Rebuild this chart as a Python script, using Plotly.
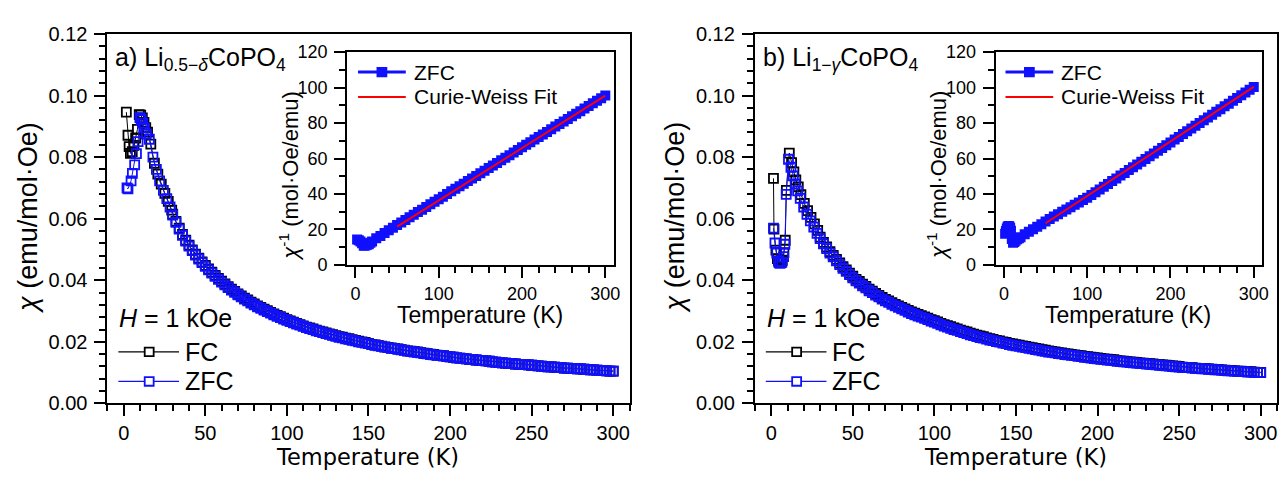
import plotly.graph_objects as go

# ---------------- data ----------------
T_grid = [30, 32, 34, 36, 38, 40, 42, 44, 46, 48,
          50, 52, 54, 56, 58, 60, 62, 64, 66, 68,
          70, 72, 74, 76, 78, 80, 82, 84, 86, 88,
          90, 92, 94, 96, 98, 100, 102, 104, 106, 108,
          110, 112, 114, 116, 118, 120, 122, 124, 126, 128,
          130, 132, 134, 136, 138, 140, 142, 144, 146, 148,
          150, 152, 154, 156, 158, 160, 162, 164, 166, 168,
          170, 172, 174, 176, 178, 180, 182, 184, 186, 188,
          190, 192, 194, 196, 198, 200, 202, 204, 206, 208,
          210, 212, 214, 216, 218, 220, 222, 224, 226, 228,
          230, 232, 234, 236, 238, 240, 242, 244, 246, 248,
          250, 252, 254, 256, 258, 260, 262, 264, 266, 268,
          270, 272, 274, 276, 278, 280, 282, 284, 286, 288,
          290, 292, 294, 296, 298, 300]

# panel a : Li(0.5-d)CoPO4
Ta_zfc_low = [2.0, 2.6, 4.5, 5.3, 6.7, 7.8, 8.8, 9.9, 10.7, 11.6, 12.6, 13.8, 15.7,
              17.9, 20.0, 22.0, 24.3, 26.4, 28.4]
chia_zfc_low = [0.0700, 0.0697, 0.0723, 0.0747, 0.0775, 0.0811, 0.0850, 0.0928, 0.0922,
                0.0910, 0.0895, 0.0875, 0.0858, 0.0800, 0.0760, 0.0723, 0.0692, 0.0665, 0.0638]
chia_zfc_high = [0.0612, 0.0588, 0.0566, 0.0546, 0.0527, 0.0511, 0.0496, 0.0482, 0.0469, 0.0457,
                 0.0445, 0.0434, 0.0423, 0.0413, 0.0403, 0.0394, 0.0385, 0.0376, 0.0368, 0.0361,
                 0.0353, 0.0346, 0.0339, 0.0333, 0.0326, 0.0320, 0.0314, 0.0309, 0.0303, 0.0298,
                 0.0293, 0.0288, 0.0283, 0.0279, 0.0274, 0.0270, 0.0266, 0.0262, 0.0258, 0.0254,
                 0.0250, 0.0246, 0.0243, 0.0240, 0.0236, 0.0233, 0.0230, 0.0227, 0.0224, 0.0221,
                 0.0218, 0.0215, 0.0213, 0.0210, 0.0208, 0.0205, 0.0203, 0.0200, 0.0198, 0.0196,
                 0.0194, 0.0191, 0.0189, 0.0187, 0.0185, 0.0183, 0.0181, 0.0179, 0.0178, 0.0176,
                 0.0174, 0.0172, 0.0170, 0.0169, 0.0167, 0.0166, 0.0164, 0.0162, 0.0161, 0.0159,
                 0.0158, 0.0156, 0.0155, 0.0154, 0.0152, 0.0151, 0.0150, 0.0148, 0.0147, 0.0146,
                 0.0145, 0.0143, 0.0142, 0.0141, 0.0140, 0.0139, 0.0138, 0.0137, 0.0135, 0.0134,
                 0.0133, 0.0132, 0.0131, 0.0130, 0.0129, 0.0128, 0.0127, 0.0126, 0.0126, 0.0125,
                 0.0124, 0.0123, 0.0122, 0.0121, 0.0120, 0.0119, 0.0119, 0.0118, 0.0117, 0.0116,
                 0.0115, 0.0115, 0.0114, 0.0113, 0.0112, 0.0112, 0.0111, 0.0110, 0.0109, 0.0109,
                 0.0108, 0.0107, 0.0107, 0.0106, 0.0105, 0.0105]

Ta_fc_low = [1.6, 2.6, 3.3, 4.1, 5.2, 6.3, 7.3, 8.4, 9.5, 10.4, 11.4, 12.4, 13.5, 14.6,
             16.6, 18.8, 20.9, 23.0, 25.2, 27.3, 29.4]
chia_fc_low = [0.0946, 0.0871, 0.0834, 0.0812, 0.0818, 0.0838, 0.0862, 0.0890, 0.0938, 0.0936,
               0.0927, 0.0913, 0.0896, 0.0881, 0.0842, 0.0780, 0.0745, 0.0712, 0.0682, 0.0656, 0.0628]
chia_fc_high = [0.0615, 0.0591, 0.0569, 0.0549, 0.0530, 0.0514, 0.0499, 0.0485, 0.0472, 0.0460,
                0.0448, 0.0437, 0.0426, 0.0416, 0.0406, 0.0397, 0.0388, 0.0379, 0.0371, 0.0364,
                0.0356, 0.0349, 0.0342, 0.0336, 0.0329, 0.0323, 0.0317, 0.0312, 0.0306, 0.0301,
                0.0296, 0.0291, 0.0286, 0.0282, 0.0277, 0.0272, 0.0268, 0.0264, 0.0260, 0.0256,
                0.0252, 0.0248, 0.0245, 0.0242, 0.0238, 0.0235, 0.0232, 0.0229, 0.0226, 0.0223,
                0.0220, 0.0217, 0.0215, 0.0212, 0.0210, 0.0207, 0.0205, 0.0202, 0.0200, 0.0198,
                0.0195, 0.0192, 0.0190, 0.0188, 0.0186, 0.0184, 0.0182, 0.0180, 0.0179, 0.0177,
                0.0175, 0.0173, 0.0171, 0.0170, 0.0168, 0.0167, 0.0165, 0.0163, 0.0162, 0.0160,
                0.0159, 0.0157, 0.0156, 0.0155, 0.0153, 0.0151, 0.0150, 0.0148, 0.0147, 0.0146,
                0.0145, 0.0143, 0.0142, 0.0141, 0.0140, 0.0139, 0.0138, 0.0137, 0.0135, 0.0134,
                0.0133, 0.0132, 0.0131, 0.0130, 0.0129, 0.0128, 0.0127, 0.0126, 0.0126, 0.0125,
                0.0124, 0.0123, 0.0122, 0.0121, 0.0120, 0.0119, 0.0119, 0.0118, 0.0117, 0.0116,
                0.0115, 0.0115, 0.0114, 0.0113, 0.0112, 0.0112, 0.0111, 0.0110, 0.0109, 0.0109,
                0.0108, 0.0107, 0.0107, 0.0106, 0.0105, 0.0105]

# panel b : Li(1-g)CoPO4
Tb_zfc_low = [1.4, 2.3, 3.4, 4.4, 5.4, 6.5, 7.6, 8.4, 9.2, 10.6, 12.1, 13.5, 14.7, 16.2,
              17.8, 19.9, 21.9, 24.0, 26.1, 28.1]
chib_zfc_low = [0.0569, 0.0521, 0.0488, 0.0462, 0.0455, 0.0458, 0.0477, 0.0517, 0.0679, 0.0793,
                0.0767, 0.0739, 0.0713, 0.0690, 0.0666, 0.0638, 0.0614, 0.0593, 0.0573, 0.0552]
chib_zfc_high = [0.0535, 0.0518, 0.0503, 0.0488, 0.0476, 0.0463, 0.0451, 0.0439, 0.0429, 0.0418,
                 0.0408, 0.0398, 0.0391, 0.0382, 0.0375, 0.0366, 0.0360, 0.0352, 0.0346, 0.0339,
                 0.0333, 0.0328, 0.0322, 0.0317, 0.0312, 0.0307, 0.0302, 0.0297, 0.0292, 0.0288,
                 0.0284, 0.0280, 0.0276, 0.0272, 0.0267, 0.0264, 0.0260, 0.0255, 0.0251, 0.0248,
                 0.0244, 0.0240, 0.0237, 0.0233, 0.0230, 0.0227, 0.0223, 0.0220, 0.0217, 0.0214,
                 0.0212, 0.0209, 0.0206, 0.0204, 0.0201, 0.0199, 0.0196, 0.0194, 0.0191, 0.0189,
                 0.0187, 0.0185, 0.0183, 0.0181, 0.0179, 0.0177, 0.0175, 0.0173, 0.0171, 0.0169,
                 0.0167, 0.0166, 0.0164, 0.0162, 0.0161, 0.0159, 0.0158, 0.0156, 0.0155, 0.0153,
                 0.0152, 0.0150, 0.0149, 0.0147, 0.0146, 0.0145, 0.0143, 0.0142, 0.0141, 0.0140,
                 0.0139, 0.0137, 0.0136, 0.0135, 0.0134, 0.0133, 0.0132, 0.0131, 0.0130, 0.0129,
                 0.0128, 0.0127, 0.0126, 0.0125, 0.0124, 0.0123, 0.0122, 0.0121, 0.0120, 0.0119,
                 0.0118, 0.0117, 0.0116, 0.0116, 0.0115, 0.0114, 0.0113, 0.0112, 0.0112, 0.0111,
                 0.0110, 0.0109, 0.0109, 0.0108, 0.0107, 0.0106, 0.0106, 0.0105, 0.0104, 0.0104,
                 0.0103, 0.0102, 0.0102, 0.0101, 0.0100, 0.0100]

Tb_fc_low = [1.4, 1.7, 2.9, 3.8, 4.8, 5.8, 6.8, 7.8, 8.6, 9.3, 11.1, 12.5, 13.9, 15.1, 16.6,
             18.2, 20.3, 22.3, 24.4, 26.5, 28.5]
chib_fc_low = [0.0731, 0.0566, 0.0498, 0.0470, 0.0458, 0.0457, 0.0465, 0.0490, 0.0530, 0.0692,
               0.0813, 0.0782, 0.0752, 0.0726, 0.0703, 0.0678, 0.0650, 0.0626, 0.0604, 0.0583, 0.0562]
chib_fc_high = [0.0540, 0.0523, 0.0508, 0.0493, 0.0481, 0.0468, 0.0456, 0.0444, 0.0434, 0.0423,
                0.0413, 0.0403, 0.0396, 0.0387, 0.0380, 0.0371, 0.0365, 0.0357, 0.0351, 0.0344,
                0.0338, 0.0333, 0.0327, 0.0322, 0.0317, 0.0312, 0.0307, 0.0302, 0.0297, 0.0293,
                0.0289, 0.0285, 0.0281, 0.0277, 0.0272, 0.0269, 0.0265, 0.0260, 0.0256, 0.0253,
                0.0249, 0.0245, 0.0242, 0.0238, 0.0235, 0.0232, 0.0228, 0.0225, 0.0222, 0.0219,
                0.0217, 0.0213, 0.0210, 0.0208, 0.0205, 0.0203, 0.0200, 0.0198, 0.0195, 0.0193,
                0.0191, 0.0189, 0.0187, 0.0185, 0.0183, 0.0181, 0.0179, 0.0177, 0.0175, 0.0173,
                0.0171, 0.0169, 0.0167, 0.0165, 0.0164, 0.0162, 0.0161, 0.0159, 0.0158, 0.0156,
                0.0155, 0.0153, 0.0152, 0.0150, 0.0149, 0.0148, 0.0146, 0.0145, 0.0144, 0.0143,
                0.0142, 0.0139, 0.0138, 0.0137, 0.0136, 0.0135, 0.0134, 0.0133, 0.0132, 0.0131,
                0.0130, 0.0129, 0.0128, 0.0127, 0.0126, 0.0125, 0.0124, 0.0123, 0.0122, 0.0121,
                0.0120, 0.0118, 0.0117, 0.0117, 0.0116, 0.0115, 0.0114, 0.0113, 0.0113, 0.0112,
                0.0111, 0.0110, 0.0110, 0.0109, 0.0108, 0.0107, 0.0107, 0.0106, 0.0105, 0.0105,
                0.0104, 0.0103, 0.0103, 0.0102, 0.0101, 0.0101]

# insets: inverse susceptibility (ZFC) and Curie-Weiss fit
Ta_inset = [2, 4, 6, 8, 10, 12, 14, 16, 18, 20, 25, 30, 35,
            40, 45, 50, 55, 60, 65, 70, 75, 80, 85, 90, 95, 100, 105, 110, 115, 120, 125,
            130, 135, 140, 145, 150, 155, 160, 165, 170, 175, 180, 185, 190, 195, 200, 205,
            210, 215, 220, 225, 230, 235, 240, 245, 250, 255, 260, 265, 270, 275, 280, 285,
            290, 295, 300]
inva_inset = [14.3, 14.0, 13.2, 12.3, 10.9, 11.0, 11.4, 11.7, 12.5, 13.2, 15.0, 16.3, 18.0,
              19.6, 21.0, 22.5, 23.9, 25.4, 26.9, 28.3, 29.8, 31.2, 32.7, 34.2, 35.6, 37.1, 38.5,
              40.0, 41.5, 42.9, 44.4, 45.8, 47.3, 48.8, 50.2, 51.7, 53.1, 54.6, 56.1, 57.5, 59.0,
              60.4, 61.9, 63.4, 64.8, 66.3, 67.7, 69.2, 70.7, 72.1, 73.6, 75.0, 76.5, 78.0, 79.4,
              80.9, 82.3, 83.8, 85.3, 86.7, 88.2, 89.6, 91.1, 92.6, 94.0, 95.5]
Ta_fit = [50, 300]
inva_fit = [21.6, 95.4]

Tb_inset = [1.5, 2.5, 3.5, 4.5, 5.5, 6.5, 7.5, 8.5, 9.5, 11, 12.5, 14, 16, 18, 20, 25, 30, 35,
            40, 45, 50, 55, 60, 65, 70, 75, 80, 85, 90, 95, 100, 105, 110, 115, 120, 125,
            130, 135, 140, 145, 150, 155, 160, 165, 170, 175, 180, 185, 190, 195, 200, 205,
            210, 215, 220, 225, 230, 235, 240, 245, 250, 255, 260, 265, 270, 275, 280, 285,
            290, 295, 300]
invb_inset = [17.6, 19.2, 20.5, 21.6, 22.0, 21.8, 21.0, 19.3, 14.7, 12.6, 13.0, 13.7, 14.5, 15.0,
              15.7, 17.3, 18.7, 20.2, 21.6, 23.0,
              24.5, 25.9, 27.3, 28.6, 30.0, 31.3, 32.6, 33.9, 35.2, 36.6, 37.9, 39.5, 41.0, 42.6,
              44.1, 45.7, 47.3, 48.8, 50.4, 51.9, 53.5, 55.1, 56.6, 58.2, 59.7, 61.3, 62.9, 64.4,
              66.0, 67.5, 69.1, 70.7, 72.2, 73.8, 75.3, 76.9, 78.5, 80.0, 81.6, 83.1, 84.7, 86.3,
              87.8, 89.4, 90.9, 92.5, 94.1, 95.6, 97.2, 98.7, 100.3]
Tb_fit = [50, 300]
invb_fit = [23.5, 100.4]

main_xticks = [0, 50, 100, 150, 200, 250, 300]
inset_xticks = [0, 100, 200, 300]

# ---------------- figure ----------------
W, H = 1287, 487
BLUE = "#1010ff"
RED = "#ff0000"
FONT = "Liberation Sans, Arial, sans-serif"


def fx(p):
    return p / W


def fy(p):
    return 1 - p / H


fig = go.Figure()


def main_traces(xa, ya, T_fc, c_fc, T_zfc, c_zfc):
    fig.add_trace(go.Scatter(
        x=T_fc, y=c_fc, xaxis=xa, yaxis=ya, name="FC", showlegend=False,
        mode="lines+markers", line=dict(color="black", width=1),
        marker=dict(symbol="square-open", size=9, color="black", line=dict(width=1.8, color="black"))))
    fig.add_trace(go.Scatter(
        x=T_zfc, y=c_zfc, xaxis=xa, yaxis=ya, name="ZFC", showlegend=False,
        mode="lines+markers", line=dict(color=BLUE, width=1),
        marker=dict(symbol="square-open", size=9, color=BLUE, line=dict(width=1.8, color=BLUE))))


def inset_traces(xa, ya, T_d, inv_d, T_f, inv_f):
    fig.add_trace(go.Scatter(
        x=T_d, y=inv_d, xaxis=xa, yaxis=ya, name="ZFC", showlegend=False,
        mode="lines+markers", line=dict(color=BLUE, width=3),
        marker=dict(symbol="square", size=10, color=BLUE)))
    fig.add_trace(go.Scatter(
        x=T_f, y=inv_f, xaxis=xa, yaxis=ya, name="Curie-Weiss Fit", showlegend=False,
        mode="lines", line=dict(color=RED, width=2)))


main_traces("x", "y", Ta_fc_low + T_grid, chia_fc_low + chia_fc_high,
            Ta_zfc_low + T_grid, chia_zfc_low + chia_zfc_high)
main_traces("x2", "y2", Tb_fc_low + T_grid, chib_fc_low + chib_fc_high,
            Tb_zfc_low + T_grid, chib_zfc_low + chib_zfc_high)
inset_traces("x3", "y3", Ta_inset, inva_inset, Ta_fit, inva_fit)
inset_traces("x4", "y4", Tb_inset, invb_inset, Tb_fit, invb_fit)

ax_common = dict(showline=True, linecolor="black", linewidth=2, mirror=True,
                 ticks="outside", tickcolor="black", tickwidth=1.5, ticklen=11,
                 showgrid=False, zeroline=False)

main_x = dict(ax_common, range=[-10, 310], tickvals=main_xticks,
              tickfont=dict(family=FONT, size=20, color="black"),
              minor=dict(dtick=10, tick0=0, ticks="outside", ticklen=6, tickwidth=1.5, tickcolor="black"))
main_y = dict(ax_common, range=[0, 0.12], dtick=0.02, tickformat=".2f",
              tickfont=dict(family=FONT, size=20, color="black"), ticklabelstandoff=3,
              minor=dict(dtick=0.004, tick0=0, ticks="outside", ticklen=6, tickwidth=1.5, tickcolor="black"))
ins_x = dict(ax_common, range=[-10, 310], tickvals=inset_xticks,
             tickfont=dict(family=FONT, size=18, color="black"),
             minor=dict(dtick=20, tick0=0, ticks="outside", ticklen=6, tickwidth=1.5, tickcolor="black"))
ins_y = dict(ax_common, range=[0, 120], dtick=20,
             tickfont=dict(family=FONT, size=18, color="black"), ticklabelstandoff=3,
             minor=dict(dtick=10, tick0=0, ticks="outside", ticklen=6, tickwidth=1.5, tickcolor="black"))

fig.update_layout(
    width=W, height=H, margin=dict(l=0, r=0, t=0, b=0),
    paper_bgcolor="white", plot_bgcolor="white", showlegend=False,
    font=dict(family=FONT, color="black"),
    xaxis=dict(main_x, domain=[fx(108), fx(633)], anchor="y"),
    yaxis=dict(main_y, domain=[fy(411), fy(24)], anchor="x"),
    xaxis2=dict(main_x, domain=[fx(759), fx(1284)], anchor="y2"),
    yaxis2=dict(main_y, domain=[fy(411), fy(24)], anchor="x2"),
    xaxis3=dict(ins_x, domain=[fx(349), fx(617)], anchor="y3"),
    yaxis3=dict(ins_y, domain=[fy(266), fy(43)], anchor="x3"),
    xaxis4=dict(ins_x, domain=[fx(1001), fx(1269)], anchor="y4"),
    yaxis4=dict(ins_y, domain=[fy(266), fy(43)], anchor="x4"),
)

annots = []
shapes = []


def text(t, x, y, size, family=FONT, anchor="left", angle=0):
    annots.append(dict(text=t, x=fx(x), y=fy(y), xanchor=anchor, yanchor="middle",
                       textangle=angle, font=dict(family=family, size=size, color="black"),
                       showarrow=False, xref="paper", yref="paper"))


def key_line(x0, x1, y, color, width):
    shapes.append(dict(type="line", xref="paper", yref="paper", x0=fx(x0), x1=fx(x1),
                       y0=fy(y), y1=fy(y), line=dict(color=color, width=width)))


def key_square(xc, y, half, color, filled):
    shapes.append(dict(type="rect", xref="paper", yref="paper",
                       x0=fx(xc - half), x1=fx(xc + half), y0=fy(y + half), y1=fy(y - half),
                       line=dict(color=color, width=1.8),
                       fillcolor=color if filled else "white"))


for dx, label in [(0, "a) Li<sub>0.5−<i>δ</i></sub>CoPO<sub>4</sub>"),
                  (651, "b) Li<sub>1−<i>γ</i></sub>CoPO<sub>4</sub>")]:
    text(label, 114 + dx, 50, 25)
    text("<i>χ</i> (emu/mol·Oe)", 28 + dx, 216, 27, anchor="center", angle=-90)
    text("Temperature (K)", 370 + dx, 467, 22.5, family="DejaVu Sans", anchor="center")
    text("Temperature (K)", 483 + dx, 318, 23, anchor="center")
    text("<i>χ</i><sup>-1</sup> (mol·Oe/emu)", 291 + dx, 172, 22, anchor="center", angle=-90)
    # main legend
    text("<i>H</i> = 1 kOe", 118 + dx, 322, 25)
    key_line(119 + dx, 180 + dx, 357, "black", 1.2)
    key_square(150 + dx, 357, 4.5, "black", False)
    text("FC", 184 + dx, 357, 25)
    key_line(119 + dx, 180 + dx, 388, BLUE, 1.2)
    key_square(150 + dx, 388, 4.5, BLUE, False)
    text("ZFC", 184 + dx, 388, 25)
    # inset legend
    key_line(360 + dx, 408 + dx, 64, BLUE, 3)
    key_square(384 + dx, 64, 4.5, BLUE, True)
    text("ZFC", 414 + dx, 64, 21)
    key_line(360 + dx, 408 + dx, 90, RED, 2)
    text("Curie-Weiss Fit", 414 + dx, 90, 21)

fig.update_layout(annotations=annots, shapes=shapes)

fig.write_html("out.html")
